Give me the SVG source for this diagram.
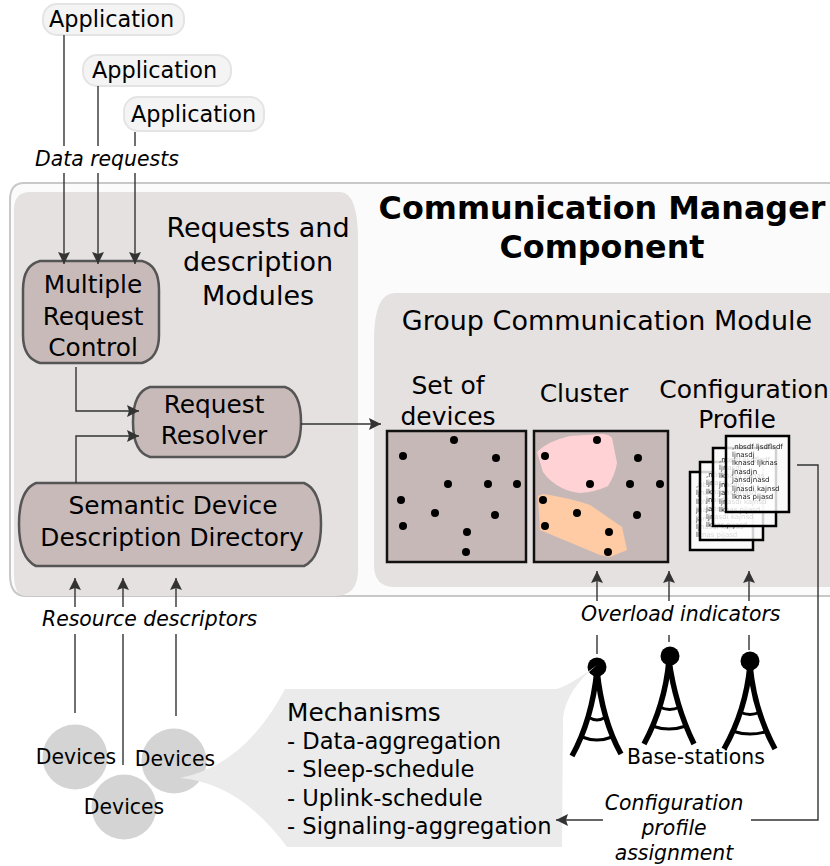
<svg xmlns="http://www.w3.org/2000/svg" width="830" height="866" viewBox="0 0 830 866">
<style>
text{font-family:"DejaVu Sans",sans-serif;fill:#000}
.c{text-anchor:middle}
.i{font-style:italic}
.app{fill:#f4f4f4;stroke:#e4e4e4;stroke-width:2}
.n{fill:#c9baba;stroke:#555;stroke-width:2.5}
.l{fill:none;stroke:#333;stroke-width:1.4}
.a{marker-end:url(#ah)}
.d{fill:#d4d4d4}
.dot{fill:#000}
.box{fill:#c7b8b8;stroke:#111;stroke-width:2.5}
.page{fill:#fff;fill-opacity:.82;stroke:#000;stroke-width:2.5}
.t{font-size:7px;fill:#222}
.tw{fill:none;stroke:#000;stroke-width:5.5}
.bar{fill:none;stroke:#000;stroke-width:3}
</style>
<defs>
<marker id="ah" markerUnits="userSpaceOnUse" markerWidth="14" markerHeight="14" refX="12" refY="6.5" orient="auto">
<path d="M0,0.5 L12,6.5 L0,12.5 L2,6.5 Z" fill="#333"/>
</marker>
<filter id="soft" x="-5%" y="-5%" width="110%" height="110%"><feGaussianBlur stdDeviation="0.3"/></filter>
</defs>
<g id="manager">
<path d="M830,183 H24 Q10,183 10,200 V575 Q10,596 26,596 H830" fill="#fbfbfb" stroke="#c8c8c8" stroke-width="2"/>
<text class="c" x="602" y="219" font-size="31.800" font-weight="bold">Communication Manager</text>
<text class="c" x="602" y="258" font-size="31.800" font-weight="bold">Component</text>
</g>
<g id="requests-module">
<path d="M30,192 H340 Q358,192 358,240 V570 Q358,596 335,596 H26 Q14,596 14,575 V210 Q14,192 30,192 Z" fill="#e6e1e1"/>
<text class="c" x="258" y="237" font-size="27">Requests and</text>
<text class="c" x="258" y="271" font-size="27">description</text>
<text class="c" x="258" y="305" font-size="27">Modules</text>
</g>
<g id="group-module">
<path d="M830,293 H395 Q374,293 374,340 V565 Q374,587 395,587 H830 Z" fill="#e6e1e1"/>
<text class="c" x="607" y="330" font-size="27">Group Communication Module</text>
<text class="c" x="448" y="394" font-size="25">Set of</text>
<text class="c" x="448" y="425" font-size="25">devices</text>
<text class="c" x="584" y="402" font-size="25">Cluster</text>
<text class="c" x="744" y="398" font-size="25">Configuration</text>
<text class="c" x="737" y="428" font-size="25">Profile</text>
</g>
<g id="app1"><rect class="app" x="43" y="4" width="141" height="31" rx="14"/><text x="49" y="27" font-size="22.400">Application</text></g>
<g id="app2"><rect class="app" x="83" y="55" width="148" height="31" rx="14"/><text x="92" y="78" font-size="22.400">Application</text></g>
<g id="app3"><rect class="app" x="124" y="97" width="140" height="34" rx="14"/><text x="131" y="122" font-size="22.400">Application</text></g>
<g id="data-requests"><text class="i" x="35" y="166" font-size="20.400">Data requests</text></g>
<g id="mrc"><path class="n" d="M40,261 H142 Q159,265 159,290 V335 Q159,358 142,363 H40 Q23,358 23,335 V290 Q23,265 40,261 Z"/>
<text class="c" x="93" y="293" font-size="24.800">Multiple</text>
<text class="c" x="93" y="325" font-size="24.800">Request</text>
<text class="c" x="93" y="356" font-size="24.800">Control</text></g>
<g id="resolver"><path class="n" d="M150,387 H285 Q301,392 301,422 Q301,452 285,457 H150 Q133,452 133,422 Q133,392 150,387 Z"/>
<text class="c" x="214" y="413" font-size="24.800">Request</text>
<text class="c" x="214" y="444" font-size="24.800">Resolver</text></g>
<g id="directory"><path class="n" d="M36,483 H304 Q321,490 321,524 Q321,558 304,566 H36 Q19,558 19,524 Q19,490 36,483 Z"/>
<text class="c" x="173" y="514" font-size="24.800">Semantic Device</text>
<text class="c" x="172" y="546" font-size="24.800">Description Directory</text></g>
<g id="set-of-devices"><rect class="box" x="387" y="431" width="139" height="131"/>
<g class="dot"><circle cx="454" cy="440" r="4"/><circle cx="403" cy="456" r="4"/><circle cx="496" cy="458" r="4"/><circle cx="448" cy="484" r="4"/><circle cx="488" cy="484" r="4"/><circle cx="517" cy="484" r="4"/><circle cx="401" cy="500" r="4"/><circle cx="435" cy="513" r="4"/><circle cx="495" cy="515" r="4"/><circle cx="403" cy="526" r="4"/><circle cx="467" cy="532" r="4"/><circle cx="466" cy="552" r="4"/></g></g>
<g id="cluster"><rect class="box" x="534" y="431" width="134" height="131"/>
<path fill="#ffd3d6" d="M537,452 Q548,441 570,436 L603,434 Q610,435 612,438 L617,463 Q615,475 608,486 Q595,492 580,493 Q570,492 562,488 Q550,482 543,472 Z"/>
<path fill="#ffcba4" d="M538,496 L543,494 Q570,498 590,505 L622,527 L627,550 L610,557 L600,555 L540,530 Z"/>
<g class="dot"><circle cx="597" cy="440" r="4"/><circle cx="545" cy="456" r="4"/><circle cx="638" cy="458" r="4"/><circle cx="590" cy="484" r="4"/><circle cx="630" cy="484" r="4"/><circle cx="660" cy="484" r="4"/><circle cx="543" cy="500" r="4"/><circle cx="577" cy="513" r="4"/><circle cx="637" cy="515" r="4"/><circle cx="545" cy="526" r="4"/><circle cx="609" cy="532" r="4"/><circle cx="608" cy="552" r="4"/></g></g>
<g id="profiles" filter="url(#soft)">
<rect class="page" x="690" y="472" width="63" height="78"/>
<text class="t"><tspan x="696" y="487">,nbsdf ljsdflsdf</tspan><tspan x="696" y="495.400">ljnasdj</tspan><tspan x="696" y="503.800">lknasd ljknas</tspan><tspan x="696" y="512.200">jnasdjn</tspan><tspan x="696" y="520.600">jansdjnasd</tspan><tspan x="696" y="529">ljnasdi kajnsd</tspan><tspan x="696" y="537.400">lknas pijasd</tspan></text>
<rect class="page" x="700" y="462" width="63" height="78"/>
<text class="t"><tspan x="706" y="477">,nbsdf ljsdflsdf</tspan><tspan x="706" y="485.400">ljnasdj</tspan><tspan x="706" y="493.800">lknasd ljknas</tspan><tspan x="706" y="502.200">jnasdjn</tspan><tspan x="706" y="510.600">jansdjnasd</tspan><tspan x="706" y="519">ljnasdi kajnsd</tspan><tspan x="706" y="527.400">lknas pijasd</tspan></text>
<rect class="page" x="713" y="448" width="63" height="78"/>
<text class="t"><tspan x="719" y="461.600">,nbsdf ljsdflsdf</tspan><tspan x="719" y="470">ljnasdj</tspan><tspan x="719" y="478.400">lknasd ljknas</tspan><tspan x="719" y="486.800">jnasdjn</tspan><tspan x="719" y="495.200">jansdjnasd</tspan><tspan x="719" y="503.600">ljnasdi kajnsd</tspan><tspan x="719" y="512">lknas pijasd</tspan></text>
<rect class="page" x="726" y="436" width="63" height="76"/>
<text class="t"><tspan x="732" y="448.500">,nbsdf ljsdflsdf</tspan><tspan x="732" y="456.900">ljnasdj</tspan><tspan x="732" y="465.300">lknasd ljknas</tspan><tspan x="732" y="473.700">jnasdjn</tspan><tspan x="732" y="482.100">jansdjnasd</tspan><tspan x="732" y="490.500">ljnasdi kajnsd</tspan><tspan x="732" y="498.900">lknas pijasd</tspan></text>
</g>
<g id="resource-descriptors"><text class="i" x="42" y="626" font-size="20.400">Resource descriptors</text></g>
<g id="overload-indicators"><text class="i" x="581" y="621" font-size="20.400">Overload indicators</text></g>
<g id="tower1">
<circle class="dot" cx="597" cy="667" r="9.500"/>
<path class="tw" d="M597,670 Q592,720 572,756 M597,670 Q602,720 621,754"/>
<path class="bar" d="M590,718 Q597,722 604,718 M582,737 Q597,743 612,737"/>
</g>
<g id="tower2">
<circle class="dot" cx="670" cy="656" r="9.500"/>
<path class="tw" d="M669,660 Q665,705 644,744 M669,660 Q675,705 694,744"/>
<path class="bar" d="M660,707 Q669,712 680,707 M652,726 Q669,732 686,726"/>
</g>
<g id="tower3">
<circle class="dot" cx="750" cy="661" r="9.500"/>
<path class="tw" d="M750,665 Q746,710 724,749 M750,665 Q754,710 775,749"/>
<path class="bar" d="M740,712 Q750,717 760,712 M732,731 Q750,737 768,731"/>
</g>
<g id="base-stations"><text x="627" y="764" font-size="20.400">Base-stations</text></g>
<g id="device1"><circle class="d" cx="75" cy="757" r="32.500"/><text class="c" x="76" y="764" font-size="20.400">Devices</text></g>
<g id="device3"><circle class="d" cx="174" cy="761" r="32.500"/><text class="c" x="175" y="766" font-size="20.400">Devices</text></g>
<g id="device2"><circle class="d" cx="124" cy="807" r="32.500"/><text class="c" x="124" y="814" font-size="20.400">Devices</text></g>
<g id="mechanisms">
<path d="M285,689 H557 Q572,684 597,665 Q566,690 563,718 L562,847 H287 Q240,783 180,778 Q245,765 285,689 Z" fill="#ebebeb"/>
<text font-size="24.800" x="287" y="721">Mechanisms</text>
<text font-size="22.600" x="287" y="749">- Data-aggregation</text>
<text font-size="22.600" x="287" y="777">- Sleep-schedule</text>
<text font-size="22.600" x="287" y="806">- Uplink-schedule</text>
<text font-size="22.600" x="287" y="834">- Signaling-aggregation</text>
</g>
<g id="assignment">
<text class="c i" x="674" y="810" font-size="20.400">Configuration</text>
<text class="c i" x="674" y="835" font-size="20.400">profile</text>
<text class="c i" x="674" y="860" font-size="20.400">assignment</text>
</g>
<g id="connectors">
<path class="l" d="M64,35 V146"/><path class="l a" d="M64,173 V264"/>
<path class="l" d="M98,86 V146"/><path class="l a" d="M98,173 V264"/>
<path class="l" d="M135,132 V146"/><path class="l a" d="M135,173 V264"/>
<path class="l a" d="M76,367 V411 H139"/>
<path class="l a" d="M76,483 V436 H139"/>
<path class="l a" d="M301,424 H381"/>
<path class="l a" d="M75,607 V578"/><path class="l" d="M75,634 V713"/>
<path class="l a" d="M123,607 V578"/><path class="l" d="M123,634 V765"/>
<path class="l a" d="M176,607 V578"/><path class="l" d="M176,634 V716"/>
<path class="l a" d="M597,601 V571"/><path class="l" d="M597,635 V654"/>
<path class="l a" d="M669,601 V571"/><path class="l" d="M669,635 V642"/>
<path class="l a" d="M749,601 V571"/><path class="l" d="M749,635 V650"/>
<path class="l" d="M797,465 H818 V820 H751"/>
<path class="l a" d="M603,820 H556"/>
</g>
</svg>
